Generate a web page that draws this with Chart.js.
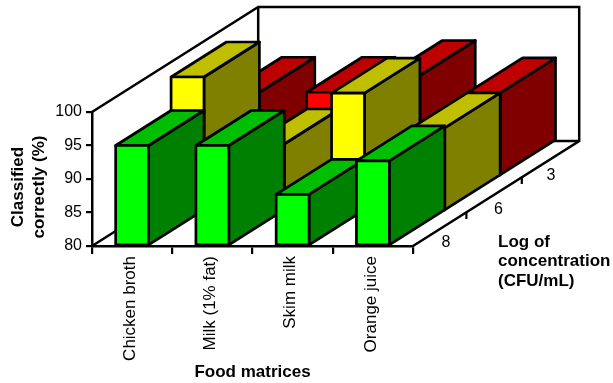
<!DOCTYPE html>
<html><head><meta charset="utf-8">
<style>html,body{margin:0;padding:0;background:#fff}#w{width:613px;height:383px;position:relative}</style>
<script src="https://cdn.jsdelivr.net/npm/chart.js@4"></script>
</head><body><div id="w"><canvas id="c" width="613" height="383"></canvas></div>
<script>
const categories = ["Chicken broth", "Milk (1% fat)", "Skim milk", "Orange juice"];
const depthLabels = ["8", "6", "3"];
const values8 = [95, 95, 87.7, 92.7];
const values6 = [100, 90, 97.6, 92.4];
const values3 = [92.5, 92.5, 95, 92.4];
const colors8 = ["#00FF00", "#00BF00", "#008000"];
const colors6 = ["#FFFF00", "#BFBF00", "#808000"];
const colors3 = ["#FF0000", "#BF0000", "#800000"];
const yTitleLines = ["Classified", "correctly (%)"];
const depthTitleLines = ["Log of", "concentration", "(CFU/mL)"];
const axisMin = 80, axisMax = 100;
const rowDX = 55.4, rowDY = -35;
const LW = 2.5;
const FONT = '"Liberation Sans", Arial, sans-serif';

class Bar3DController extends Chart.BarController {
  draw() {
    const ctx = this.chart.ctx, ds = this.getDataset();
    const row = this.index;
    const ox = row * rowDX, oy = row * rowDY;
    ctx.save();
    ctx.lineWidth = LW + 0.2; ctx.strokeStyle = '#000'; ctx.lineJoin = 'round';
    const poly = (pts, fill) => {
      ctx.beginPath(); pts.forEach((p, i) => i ? ctx.lineTo(p[0], p[1]) : ctx.moveTo(p[0], p[1]));
      ctx.closePath(); ctx.fillStyle = fill; ctx.fill(); ctx.stroke();
    };
    this._cachedMeta.data.forEach(b => {
      const p = b.getProps(['x', 'y', 'base', 'width']);
      const l = p.x - p.width / 2 + ox, r = p.x + p.width / 2 + ox, t = p.y + oy, bt = p.base + oy;
      const [front, top, side] = ds.faceColors;
      poly([[r, t], [r + rowDX, t + rowDY], [r + rowDX, bt + rowDY], [r, bt]], side);
      poly([[l, t], [l + rowDX, t + rowDY], [r + rowDX, t + rowDY], [r, t]], top);
      poly([[l, t], [r, t], [r, bt], [l, bt]], front);
    });
    ctx.restore();
  }
}
Bar3DController.id = 'bar3d';
Bar3DController.defaults = Chart.BarController.defaults;
Bar3DController.overrides = Chart.BarController.overrides;
Chart.register(Bar3DController);

const frame = {
  id: 'frame',
  beforeDatasetsDraw(chart) {
    const ctx = chart.ctx, { x, y } = chart.scales;
    const L = x.left, R = x.right, B = y.getPixelForValue(axisMin), T = y.getPixelForValue(axisMax);
    const n = depthLabels.length, DX = n * rowDX, DY = n * rowDY;
    ctx.save();
    ctx.lineWidth = LW; ctx.strokeStyle = '#000'; ctx.lineJoin = 'miter';
    ctx.beginPath();
    ctx.moveTo(L, T); ctx.lineTo(L + DX, T + DY); ctx.lineTo(R + DX, T + DY); ctx.lineTo(R + DX, B + DY);
    ctx.lineTo(R, B);
    ctx.moveTo(L, B); ctx.lineTo(L + DX, B + DY); ctx.lineTo(R + DX, B + DY);
    ctx.moveTo(L + DX, B + DY); ctx.lineTo(L + DX, T + DY);
    ctx.stroke();
    ctx.restore();
  },
  afterDatasetsDraw(chart) {
    const ctx = chart.ctx, { x, y } = chart.scales;
    const R = x.right, B = y.getPixelForValue(axisMin);
    ctx.save();
    ctx.lineWidth = 2.2; ctx.strokeStyle = '#000'; ctx.fillStyle = '#000';
    ctx.font = '16px ' + FONT; ctx.textAlign = 'center'; ctx.textBaseline = 'middle';
    depthLabels.forEach((lab, i) => {
      const px = R + i * rowDX, py = B + i * rowDY;
      if (i > 0) { ctx.beginPath(); ctx.moveTo(px - 2, py + 1); ctx.lineTo(px - 2, py + 8); ctx.stroke(); }
      ctx.fillText(lab, R + 33 + i * 52.5, B - 3 - i * 33.5);
    });
    ctx.font = 'bold 17px ' + FONT; ctx.textAlign = 'left'; ctx.textBaseline = 'alphabetic';
    depthTitleLines.forEach((t, i) => ctx.fillText(t, R + 85, [247, 266, 286][i]));
    ctx.save();
    ctx.translate(23, 187); ctx.rotate(-Math.PI / 2); ctx.textAlign = 'center';
    yTitleLines.forEach((t, i) => ctx.fillText(t, 0, i * 20.5));
    ctx.restore();
    ctx.restore();
  }
};

new Chart(document.getElementById('c'), {
  type: 'bar3d',
  data: {
    labels: categories,
    datasets: [
      { label: '8', data: values8, faceColors: colors8, backgroundColor: colors8[0], clip: false, base: axisMin },
      { label: '6', data: values6, faceColors: colors6, backgroundColor: colors6[0], clip: false, base: axisMin },
      { label: '3', data: values3, faceColors: colors3, backgroundColor: colors3[0], clip: false, base: axisMin }
    ]
  },
  plugins: [frame],
  options: {
    responsive: false, animation: false,
    layout: { padding: { top: 112, right: 200, left: 0, bottom: 0 } },
    plugins: { legend: { display: false }, tooltip: { enabled: false } },
    datasets: { bar3d: { grouped: false, barPercentage: 0.41, categoryPercentage: 1 } },
    scales: {
      x: {
        afterFit(s) { s.height = 137; },
        border: { display: true, color: '#000', width: LW },
        grid: { drawOnChartArea: false, color: '#000', lineWidth: 2.2, tickLength: 8 },
        ticks: { color: '#000', font: { family: FONT, size: 17 }, maxRotation: 90, minRotation: 90, padding: 2, labelOffset: -2, autoSkip: false },
        title: { display: true, text: 'Food matrices', color: '#000', font: { family: FONT, size: 17, weight: 'bold' }, padding: { top: 0, bottom: 0 } }
      },
      y: {
        afterFit(s) { s.width = 92; },
        min: axisMin, max: axisMax,
        border: { display: true, color: '#000', width: LW },
        grid: { drawOnChartArea: false, color: '#000', lineWidth: 2.2, tickLength: 6 },
        ticks: { color: '#000', stepSize: 5, font: { family: FONT, size: 16 }, padding: 4 }
      }
    }
  }
});
</script></body></html>
